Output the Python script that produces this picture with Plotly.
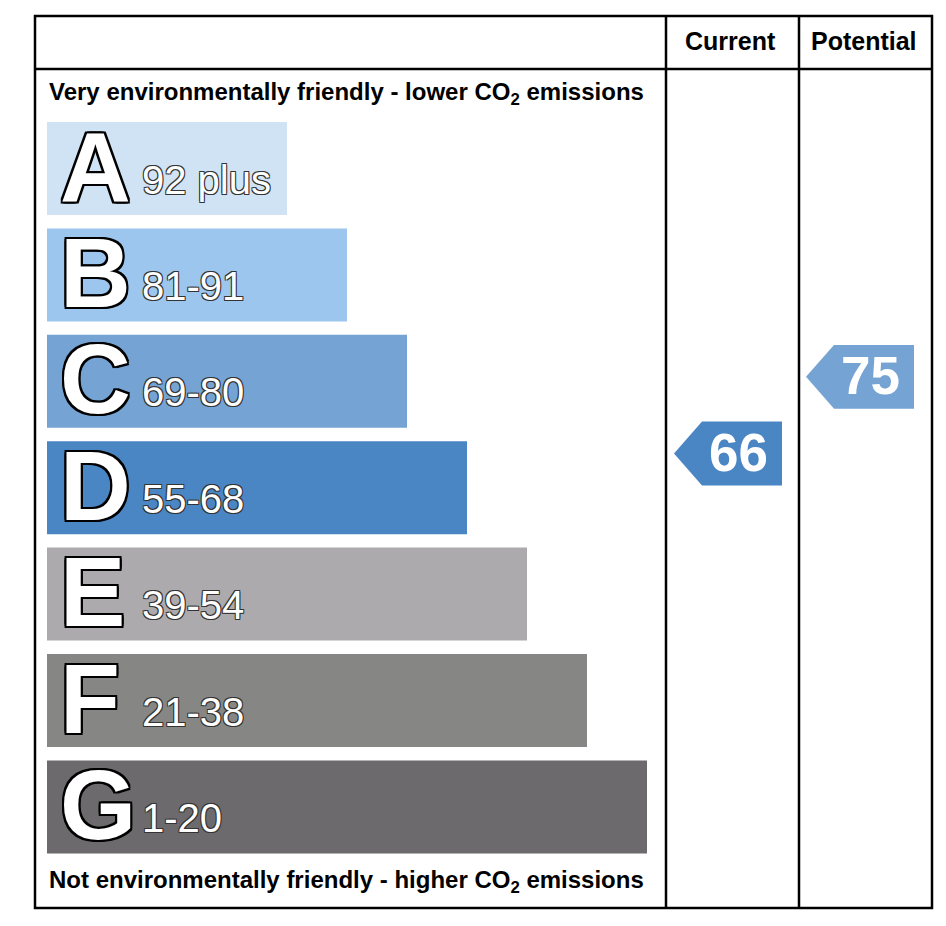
import plotly.graph_objects as go

# EPC environmental impact (CO2) rating
bands = ["A", "B", "C", "D", "E", "F", "G"]
band_labels = ["92 plus", "81-91", "69-80", "55-68", "39-54", "21-38", "1-20"]
band_low = [92, 81, 69, 55, 39, 21, 1]
band_high = [100, 91, 80, 68, 54, 38, 20]
columns = ["Current", "Potential"]
scores = [66, 75]

band_colors = ["#cfe3f5", "#9cc6ed", "#74a3d4", "#4b86c4", "#acaaad", "#868784", "#6d6a6d"]

W, H = 946, 926
OFF = 8                          # page body margin
TOP_PX, STEP_PX = 168.5 - OFF, 106.4   # centre of band A and band pitch in pixels
BAR_W = 0.874                    # bar thickness in band units
ARROW_H = 0.6
OUTLINE = ("-2px -2px 0 #000, 2px -2px 0 #000, -2px 2px 0 #000, 2px 2px 0 #000, "
           "0 2px 0 #000, 0 -2px 0 #000, 2px 0 0 #000, -2px 0 0 #000")
THIN = "-1px -1px 0 #333, 1px -1px 0 #333, -1px 1px 0 #333, 1px 1px 0 #333"


def px(x):
    return (x - OFF) / W


def py(y):
    return 1 - (y - OFF) / H


def score_pos(s):
    for i, (lo, hi) in enumerate(zip(band_low, band_high)):
        if lo <= s <= hi:
            frac = (s - lo + 0.5) / (hi - lo + 1)
            return i + 0.5 - frac
    return None


fig = go.Figure()

lengths = [240 + 60 * i for i in range(len(bands))]
fig.add_trace(go.Bar(
    y=list(range(len(bands))), x=lengths, base=0, orientation="h",
    width=BAR_W, marker=dict(color=band_colors, line=dict(width=0)),
    hoverinfo="skip", showlegend=False,
))

# arrows for current / potential
col_x = [(627, 735), (759, 867)]
notch = 28
for (x0, x1), s in zip(col_x, scores):
    yc = score_pos(s)
    idx = next(i for i, (lo, hi) in enumerate(zip(band_low, band_high)) if lo <= s <= hi)
    h = ARROW_H / 2
    fig.add_trace(go.Scatter(
        x=[x0, x0 + notch, x1, x1, x0 + notch, x0],
        y=[yc, yc - h, yc - h, yc + h, yc + h, yc],
        fill="toself", fillcolor=band_colors[idx], mode="lines",
        line=dict(width=0, color=band_colors[idx]), hoverinfo="skip", showlegend=False,
    ))
    fig.add_annotation(x=(x0 + notch + x1) / 2 - 4, y=yc, text=f"<b>{s}</b>", showarrow=False,
                       xanchor="center", yanchor="middle", yshift=1,
                       font=dict(family="Liberation Sans", size=53, color="white"))

for i, (b, lab) in enumerate(zip(bands, band_labels)):
    fig.add_annotation(x=11, y=i, text=b, showarrow=False, xanchor="left", yanchor="middle",
                       yshift=2,
                       font=dict(family="Liberation Sans", size=98, color="white",
                                 weight=600, shadow=OUTLINE))
    fig.add_annotation(x=93, y=i, text=lab, showarrow=False, xanchor="left", yanchor="middle",
                       yshift=-11,
                       font=dict(family="Liberation Sans", size=40, color="white", shadow=THIN))

# frame
frame = dict(color="black", width=2.5)
fig.add_shape(type="rect", xref="paper", yref="paper", x0=px(35), x1=px(932), y0=py(908), y1=py(16), line=frame)
fig.add_shape(type="line", xref="paper", yref="paper", x0=px(35), x1=px(932), y0=py(69), y1=py(69), line=frame)
for xv in (666, 799):
    fig.add_shape(type="line", xref="paper", yref="paper", x0=px(xv), x1=px(xv), y0=py(16), y1=py(908), line=frame)

for cx, name in zip((730, 864), columns):
    fig.add_annotation(xref="paper", yref="paper", x=px(cx), y=py(41), text=f"<b>{name}</b>",
                       showarrow=False, xanchor="center", yanchor="middle",
                       font=dict(family="Liberation Sans", size=25, color="black"))

fig.add_annotation(xref="paper", yref="paper", x=px(47), y=py(93), showarrow=False,
                   text="<b>Very environmentally friendly - lower CO<sub>2</sub> emissions</b>",
                   xanchor="left", yanchor="middle",
                   font=dict(family="Liberation Sans", size=24, color="black"))
fig.add_annotation(xref="paper", yref="paper", x=px(47), y=py(881), showarrow=False,
                   text="<b>Not environmentally friendly - higher CO<sub>2</sub> emissions</b>",
                   xanchor="left", yanchor="middle",
                   font=dict(family="Liberation Sans", size=24, color="black"))

fig.update_layout(
    width=W, height=H, margin=dict(l=0, r=0, t=0, b=0),
    paper_bgcolor="white", plot_bgcolor="white", showlegend=False,
    xaxis=dict(range=[-(47 - OFF), W - (47 - OFF)], visible=False, fixedrange=True),
    yaxis=dict(range=[(H - TOP_PX) / STEP_PX, -TOP_PX / STEP_PX], visible=False, fixedrange=True),
)

fig.write_html("out.html")
